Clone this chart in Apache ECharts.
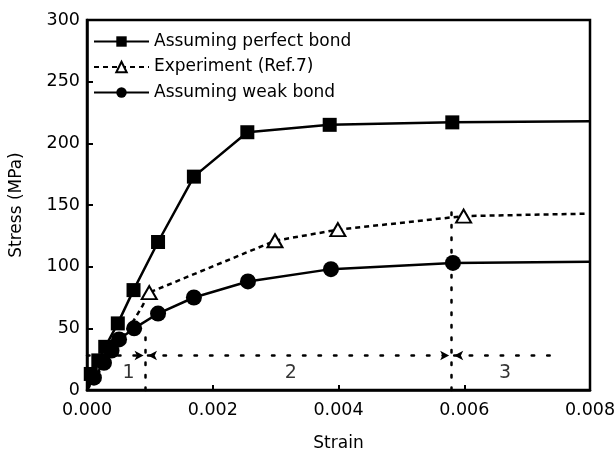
<!DOCTYPE html>
<html>
<head>
<meta charset="utf-8">
<script src="https://cdn.jsdelivr.net/npm/echarts@6/dist/echarts.min.js"></script>
<style>html,body{margin:0;padding:0;background:#fff;}#c{width:616px;height:451px;}</style>
</head>
<body>
<div id="c"></div>
<script>
// ---- data ----
var xTicks = [0, 0.002, 0.004, 0.006, 0.008];
var yTicks = [0, 50, 100, 150, 200, 250, 300];

var perfectStrain = [0, 0.00006, 0.00018, 0.00029, 0.00049, 0.00074, 0.00113, 0.0017, 0.00255, 0.00386, 0.00581, 0.0080];
var perfectStress = [0, 13, 24, 35, 54, 81, 120, 173, 209, 215, 217, 218];
var perfectUnmarked = [0, 11];

var expStrain = [0, 0.0004, 0.00075, 0.00088, 0.00099, 0.00299, 0.00399, 0.00599, 0.00797];
var expStress = [0, 30, 57, 68, 79, 121, 130, 141, 143];
var expUnmarked = [0, 1, 2, 3, 8];

var weakStrain = [0, 0.00011, 0.00027, 0.00039, 0.00051, 0.00075, 0.00113, 0.0017, 0.00256, 0.00388, 0.00582, 0.0080];
var weakStress = [0, 10, 22, 32, 41, 50, 62, 75, 88, 98, 103, 104];
var weakUnmarked = [0, 11];

// dotted region boundaries
var boundaryStrain = [0.00093, 0.0058];
var boundaryTop = [48, 152];
var arrowStress = 28;
var regionEnd = 0.00754;
var regionLabels = ['1', '2', '3'];
var regionStrain = [0.00066, 0.00324, 0.00665];
var regionStress = [14, 14, 14];

var seriesNames = ['Assuming perfect bond', 'Experiment (Ref.7)', 'Assuming weak bond'];

function build(xs, ys, unmarked) {
  return xs.map(function (x, i) {
    var d = { value: [x, ys[i]] };
    if (unmarked.indexOf(i) >= 0) d.symbol = 'none';
    return d;
  });
}

var FONT = 'DejaVu Sans';
var chart = echarts.init(document.getElementById('c'), null, { renderer: 'canvas' });

var dotV = { color: '#000', width: 2.5, type: [2.5, 10], cap: 'round' };
var dotH = { color: '#000', width: 2.5, type: [2.5, 13], cap: 'round' };

var markData = [
  [{ coord: [boundaryStrain[0], 0], symbol: 'none', lineStyle: dotV }, { coord: [boundaryStrain[0], boundaryTop[0]], symbol: 'none' }],
  [{ coord: [boundaryStrain[1], 0], symbol: 'none', lineStyle: dotV }, { coord: [boundaryStrain[1], boundaryTop[1]], symbol: 'none' }],
  [{ coord: [0, arrowStress], symbol: 'none', lineStyle: dotH }, { coord: [boundaryStrain[0] - 0.00003, arrowStress], symbol: 'arrow' }],
  [{ coord: [boundaryStrain[0] + 0.00004, arrowStress], symbol: 'arrow', lineStyle: dotH }, { coord: [boundaryStrain[1] - 0.00004, arrowStress], symbol: 'arrow' }],
  [{ coord: [boundaryStrain[1] + 0.00004, arrowStress], symbol: 'arrow', lineStyle: dotH }, { coord: [regionEnd, arrowStress], symbol: 'none' }]
];

var option = {
  backgroundColor: '#fff',
  animation: false,
  grid: { left: 87, right: 26, top: 20, bottom: 61, containLabel: false, outerBoundsMode: 'none', show: true, borderColor: '#000', borderWidth: 2.5, backgroundColor: 'transparent' },
  legend: {
    data: seriesNames,
    orient: 'vertical',
    left: 93,
    top: 33,
    itemWidth: 55,
    itemHeight: 13,
    itemGap: 8.5,
    textStyle: { fontFamily: FONT, fontSize: 17, color: '#000', padding: [0, 0, 0, 0] },
    padding: 0
  },
  xAxis: {
    type: 'value', min: 0, max: 0.008, interval: 0.002,
    name: 'Strain', nameLocation: 'middle', nameGap: 45,
    nameTextStyle: { fontFamily: FONT, fontSize: 17, color: '#000' },
    axisLine: { show: true, lineStyle: { color: '#000', width: 2.5 } },
    axisTick: { show: true, inside: true, length: 5, lineStyle: { color: '#000', width: 2 } },
    axisLabel: { fontFamily: FONT, fontSize: 17.5, color: '#000', margin: 11, formatter: function (v) { return v.toFixed(3); } },
    splitLine: { show: false }
  },
  yAxis: {
    type: 'value', min: 0, max: 300, interval: 50,
    name: 'Stress (MPa)', nameLocation: 'middle', nameGap: 62,
    nameTextStyle: { fontFamily: FONT, fontSize: 17, color: '#000' },
    axisLine: { show: true, lineStyle: { color: '#000', width: 2.5 } },
    axisTick: { show: true, inside: true, length: 6, lineStyle: { color: '#000', width: 2 } },
    axisLabel: { fontFamily: FONT, fontSize: 17.5, color: '#000', margin: 7 },
    splitLine: { show: false }
  },
  series: [
    {
      name: seriesNames[0], type: 'line', data: build(perfectStrain, perfectStress, perfectUnmarked),
      symbol: 'rect', symbolSize: 14, showAllSymbol: true,
      itemStyle: { color: '#000' }, lineStyle: { color: '#000', width: 2.5 }, z: 3
    },
    {
      name: seriesNames[1], type: 'line', data: build(expStrain, expStress, expUnmarked),
      symbol: 'triangle', symbolSize: [15, 13], showAllSymbol: true,
      itemStyle: { color: '#fff', borderColor: '#000', borderWidth: 2 },
      lineStyle: { color: '#000', width: 2.5, type: [5, 4] }, z: 2
    },
    {
      name: seriesNames[2], type: 'line', data: build(weakStrain, weakStress, weakUnmarked),
      symbol: 'circle', symbolSize: 16, showAllSymbol: true,
      itemStyle: { color: '#000' }, lineStyle: { color: '#000', width: 2.5 }, z: 3,
      markLine: { silent: true, symbolSize: [7, 9], label: { show: false }, animation: false, data: markData }
    },
    {
      name: 'regions', type: 'scatter', symbolSize: 0, silent: true,
      data: regionLabels.map(function (t, i) { return { value: [regionStrain[i], regionStress[i]], name: t }; }),
      label: { show: true, position: 'inside', formatter: '{b}', fontFamily: FONT, fontSize: 19, color: '#000' }
    }
  ]
};
chart.setOption(option);
</script>
</body>
</html>
